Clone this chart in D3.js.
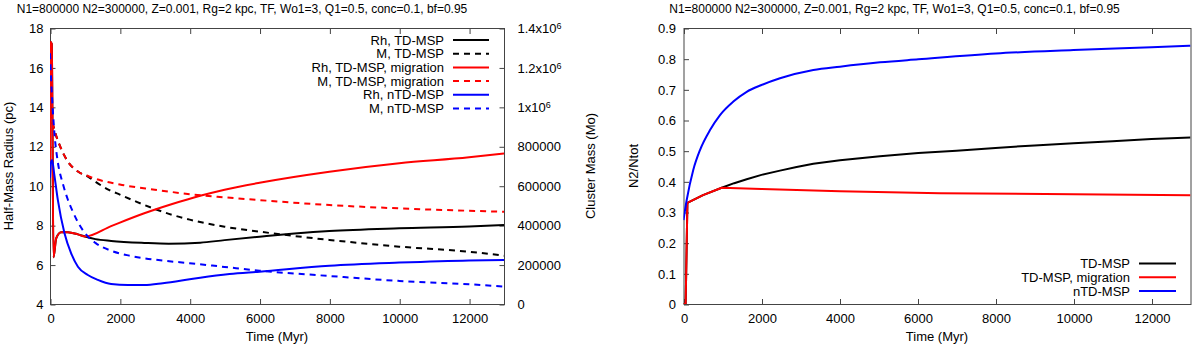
<!DOCTYPE html>
<html lang="en">
<head>
  <meta charset="UTF-8">
  <title>Half-mass radius, cluster mass and N2/Ntot vs time</title>
  <script src="https://d3js.org/d3.v7.min.js"></script>
  <style>
    body {
      margin: 0;
      padding: 0;
      background: #fff;
    }
    svg {
      display: block;
      font-family: "Liberation Sans", Arial, Helvetica, sans-serif;
    }
    text {
      fill: #000;
    }
    .axis text {
      font-size: 13px;
    }
    .axis line {
      stroke: #444;
    }
    .frame {
      fill: none;
      stroke: #444;
      stroke-width: 1;
    }
  </style>
</head>
<body>
<div id="chart"></div>

<script>
  const title = "N1=800000 N2=300000, Z=0.001, Rg=2 kpc, TF, Wo1=3, Q1=0.5, conc=0.1, bf=0.95";

  // tick values / labels
  const timeTicks = [0, 2000, 4000, 6000, 8000, 10000, 12000];
  const radiusTicks = [4, 6, 8, 10, 12, 14, 16, 18];
  const massTicks = [0, 200000, 400000, 600000, 800000, 1000000, 1200000, 1400000];
  const massTickLabels = ["0", "200000", "400000", "600000", "800000", "1x10^6", "1.2x10^6", "1.4x10^6"];
  const fracTicks = [0, 0.1, 0.2, 0.3, 0.4, 0.5, 0.6, 0.7, 0.8, 0.9];

  // left panel: half-mass radius (pc) vs time (Myr)
  const rhTd = [[0, 10.5], [8, 17.3], [50, 17.2], [100, 6.37], [177, 7.33], [320, 7.64], [510, 7.64],
    [800, 7.53], [1000, 7.42], [1300, 7.29], [1750, 7.2], [2700, 7.1], [3400, 7.06], [4300, 7.11],
    [5000, 7.24], [6000, 7.41], [7000, 7.57], [8000, 7.7], [10000, 7.84], [12000, 7.93], [13000, 8.01]];
  const rhMig = [[0, 10.5], [8, 17.3], [50, 17.2], [100, 6.37], [177, 7.33], [320, 7.64], [510, 7.64],
    [800, 7.53], [1000, 7.42], [1750, 7.95], [2700, 8.6], [3500, 9.07], [4300, 9.49], [5000, 9.8],
    [6000, 10.15], [8000, 10.71], [10000, 11.14], [12000, 11.44], [13000, 11.64]];
  const rhNtd = [[0, 10.4], [30, 11.2], [60, 11.3], [120, 10.6], [224, 9.28], [415, 7.59], [606, 6.57],
    [800, 5.89], [1083, 5.47], [1370, 5.22], [1750, 5.01], [2230, 4.96], [2700, 4.96], [3230, 5.05],
    [4000, 5.25], [4300, 5.33], [5140, 5.52], [6000, 5.64], [8000, 5.94], [10000, 6.1], [12000, 6.21],
    [13000, 6.23]];

  // left panel: cluster mass (Mo) vs time (Myr)
  const mTd = [[0, 975000], [130, 880000], [290, 800000], [500, 725000], [800, 672000], [1100, 645000],
    [1300, 620000], [1700, 578000], [2000, 555000], [2500, 517000], [3000, 482000], [3500, 452000],
    [4000, 428000], [5000, 392000], [6000, 367000], [8000, 325000], [10000, 291000],
    [12000, 265000], [13000, 245000]];
  const mMig = [[0, 975000], [130, 880000], [290, 800000], [500, 725000], [800, 672000], [1100, 648000],
    [1300, 635000], [2000, 606000], [3000, 580000], [4000, 557000], [5000, 541000], [6000, 527000],
    [8000, 502000], [10000, 485000], [13000, 468000]];
  const mNtd = [[0, 1272000], [35, 1130000], [80, 985000], [130, 860000], [224, 720000], [368, 610000],
    [510, 530000], [654, 468000], [800, 415000], [1000, 360000], [1300, 310000], [1750, 270000],
    [2200, 248000], [2700, 232000], [3300, 219000], [4000, 207000], [5000, 188000],
    [6000, 169000], [8000, 142000], [10000, 117000], [12000, 100000], [13000, 88000]];

  // right panel: N2/Ntot vs time (Myr)
  const fTd = [[0, 0], [55, 0], [100, 0.33], [500, 0.355], [980, 0.379], [1300, 0.394], [1620, 0.407],
    [2000, 0.421], [2474, 0.435], [2900, 0.447], [3329, 0.457], [4013, 0.469], [5038, 0.482],
    [6020, 0.492], [7000, 0.5], [8000, 0.509], [9000, 0.517], [10000, 0.524], [11000, 0.531],
    [12000, 0.538], [13000, 0.543]];
  const fMig = [[0, 0], [55, 0], [100, 0.33], [500, 0.355], [980, 0.379], [2000, 0.375], [4013, 0.368],
    [6577, 0.361], [10000, 0.358], [13000, 0.355]];
  const fNtd = [[0, 0.274], [82, 0.339], [250, 0.437], [423, 0.502], [680, 0.567], [936, 0.616],
    [1278, 0.66], [1620, 0.692], [2000, 0.714], [2474, 0.736], [3329, 0.763], [4013, 0.774],
    [5038, 0.788], [6020, 0.798], [8000, 0.817], [10000, 0.828], [12000, 0.837], [13000, 0.842]];

  const width = 1200, height = 349;
  const plotTop = 28, plotBottom = 304;

  const svg = d3.select("#chart").append("svg")
    .attr("width", width)
    .attr("height", height);

  // ---------- left panel ----------
  const xL = d3.scaleLinear().domain([0, 13000]).range([50, 504]);
  const yL = d3.scaleLinear().domain([4, 18]).range([plotBottom, plotTop]);
  const yM = d3.scaleLinear().domain([0, 1400000]).range([plotBottom, plotTop]);

  // ---------- right panel ----------
  const xR = d3.scaleLinear().domain([0, 13000]).range([683.5, 1190.5]);
  const yR = d3.scaleLinear().domain([0, 0.9]).range([plotBottom, plotTop]);

  function drawFrame(x) {
    const [x0, x1] = x.range();
    svg.append("rect")
      .attr("class", "frame")
      .attr("x", x0 + 0.5).attr("y", plotTop + 0.5)
      .attr("width", x1 - x0).attr("height", plotBottom - plotTop);
  }

  function xAxes(x) {
    svg.append("g")
      .attr("class", "axis")
      .attr("transform", `translate(0.5,${plotBottom})`)
      .call(d3.axisBottom(x).tickValues(timeTicks).tickSize(-5).tickPadding(10).tickFormat(d3.format("d")))
      .call(g => g.select(".domain").remove());
    svg.append("g")
      .attr("class", "axis")
      .attr("transform", `translate(0.5,${plotTop + 1})`)
      .call(d3.axisTop(x).tickValues(timeTicks).tickSize(-5).tickFormat(""))
      .call(g => g.select(".domain").remove());
  }

  drawFrame(xL);
  xAxes(xL);

  svg.append("g")
    .attr("class", "axis")
    .attr("transform", `translate(50.5,0.5)`)
    .call(d3.axisLeft(yL).tickValues(radiusTicks).tickSize(-5).tickPadding(7))
    .call(g => g.select(".domain").remove());

  const massAxis = svg.append("g")
    .attr("class", "axis")
    .attr("transform", `translate(504.5,0.5)`)
    .call(d3.axisRight(yM).tickValues(massTicks).tickSize(-5).tickPadding(13))
    .call(g => g.select(".domain").remove());

  // mass labels with superscript exponents
  massAxis.selectAll(".tick text").each(function(d, i) {
    const parts = massTickLabels[i].split("^");
    const t = d3.select(this).text(parts[0]);
    if (parts[1]) {
      t.append("tspan").attr("dy", "-0.45em").style("font-size", "9px").text(parts[1]);
    }
  });

  drawFrame(xR);
  xAxes(xR);

  svg.append("g")
    .attr("class", "axis")
    .attr("transform", `translate(684,0.5)`)
    .call(d3.axisLeft(yR).tickValues(fracTicks).tickSize(-5).tickPadding(8).tickFormat(d => d === 0 ? "0" : d3.format(".1f")(d)))
    .call(g => g.select(".domain").remove());

  // clip paths
  const defs = svg.append("defs");
  defs.append("clipPath").attr("id", "clipL").append("rect")
    .attr("x", 50).attr("y", plotTop).attr("width", 454).attr("height", plotBottom - plotTop);
  defs.append("clipPath").attr("id", "clipR").append("rect")
    .attr("x", 683.5).attr("y", plotTop).attr("width", 507).attr("height", plotBottom - plotTop);

  const lineGen = (x, y, curve) => d3.line()
    .x(d => x(d[0]))
    .y(d => y(d[1]))
    .curve(curve || d3.curveMonotoneX);

  const leftSeries = [
    { data: rhTd, y: yL, color: "#000000", dash: null, label: "Rh, TD-MSP" },
    { data: mTd, y: yM, color: "#000000", dash: "6,5", label: "M, TD-MSP" },
    { data: rhMig, y: yL, color: "#ff0000", dash: null, label: "Rh, TD-MSP, migration" },
    { data: mMig, y: yM, color: "#ff0000", dash: "6,5", label: "M, TD-MSP, migration" },
    { data: rhNtd, y: yL, color: "#0000ff", dash: null, label: "Rh, nTD-MSP" },
    { data: mNtd, y: yM, color: "#0000ff", dash: "6,5", label: "M, nTD-MSP" }
  ];

  // red and black have sharp corners in the first 1000 Myr, keep them straight
  const rightSeries = [
    { data: fTd, color: "#000000", label: "TD-MSP", curve: d3.curveLinear },
    { data: fMig, color: "#ff0000", label: "TD-MSP, migration", curve: d3.curveLinear },
    { data: fNtd, color: "#0000ff", label: "nTD-MSP", curve: d3.curveMonotoneX }
  ];

  const gL = svg.append("g").attr("clip-path", "url(#clipL)");
  leftSeries.forEach(s => {
    gL.append("path")
      .attr("d", lineGen(xL, s.y)(s.data))
      .attr("fill", "none")
      .attr("stroke", s.color)
      .attr("stroke-width", 2)
      .attr("stroke-dasharray", s.dash);
  });

  const gR = svg.append("g").attr("clip-path", "url(#clipR)");
  rightSeries.forEach(s => {
    gR.append("path")
      .attr("d", lineGen(xR, yR, s.curve)(s.data))
      .attr("fill", "none")
      .attr("stroke", s.color)
      .attr("stroke-width", 2)
      .attr("stroke-linejoin", "round");
  });

  // legends
  leftSeries.forEach((s, i) => {
    const y = 40 + i * 13.7;
    svg.append("text")
      .attr("x", 444).attr("y", y + 4.5)
      .attr("text-anchor", "end")
      .style("font-size", "13px")
      .text(s.label);
    svg.append("line")
      .attr("x1", 453).attr("x2", 489)
      .attr("y1", y).attr("y2", y)
      .attr("stroke", s.color)
      .attr("stroke-width", 2)
      .attr("stroke-dasharray", s.dash);
  });

  rightSeries.forEach((s, i) => {
    const y = 263.5 + i * 13.8;
    svg.append("text")
      .attr("x", 1130).attr("y", y + 4.5)
      .attr("text-anchor", "end")
      .style("font-size", "13px")
      .text(s.label);
    svg.append("line")
      .attr("x1", 1139).attr("x2", 1176)
      .attr("y1", y).attr("y2", y)
      .attr("stroke", s.color)
      .attr("stroke-width", 2);
  });

  // titles and axis labels
  svg.append("text").attr("x", 242).attr("y", 13).attr("text-anchor", "middle")
    .style("font-size", "12px").text(title);
  svg.append("text").attr("x", 894.5).attr("y", 13).attr("text-anchor", "middle")
    .style("font-size", "12px").text(title);

  svg.append("text").attr("x", 277).attr("y", 341).attr("text-anchor", "middle")
    .style("font-size", "13px").text("Time (Myr)");
  svg.append("text").attr("x", 937).attr("y", 341).attr("text-anchor", "middle")
    .style("font-size", "13px").text("Time (Myr)");

  svg.append("text").attr("transform", "translate(13,166) rotate(-90)").attr("text-anchor", "middle")
    .style("font-size", "13px").text("Half-Mass Radius (pc)");
  svg.append("text").attr("transform", "translate(595,166) rotate(-90)").attr("text-anchor", "middle")
    .style("font-size", "13px").text("Cluster Mass (Mo)");
  svg.append("text").attr("transform", "translate(638,166) rotate(-90)").attr("text-anchor", "middle")
    .style("font-size", "13px").text("N2/Ntot");
</script>
</body>
</html>
